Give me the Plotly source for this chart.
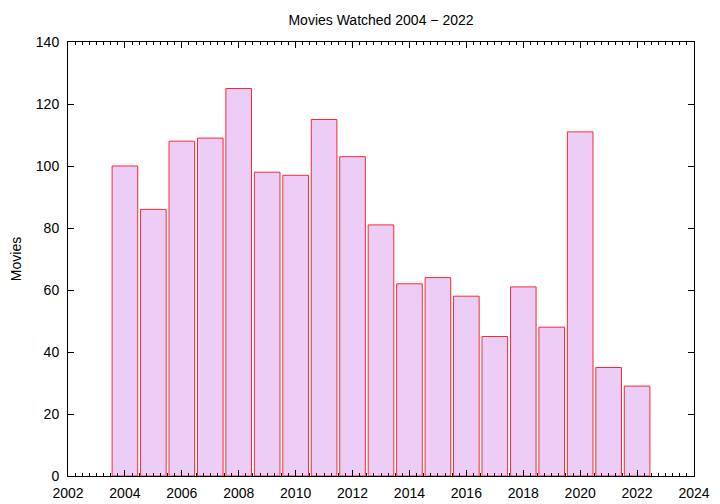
import plotly.graph_objects as go

years = [2004, 2005, 2006, 2007, 2008, 2009, 2010, 2011, 2012, 2013,
         2014, 2015, 2016, 2017, 2018, 2019, 2020, 2021, 2022]
movies = [100, 86, 108, 109, 125, 98, 97, 115, 103, 81,
          62, 64, 58, 45, 61, 48, 111, 35, 29]

fig = go.Figure()
fig.add_trace(go.Bar(
    x=years, y=movies, width=0.9,
    marker=dict(color="rgb(235,205,245)", line=dict(color="rgb(255,40,50)", width=1)),
))

# page body has an 8px offset; margins compensate so the plot box lands at 68..694 x 42..476
font = dict(family="Liberation Sans, Arial, sans-serif", size=14, color="black")
fig.update_layout(
    width=720, height=504,
    margin=dict(l=60, r=34, t=34, b=36),
    paper_bgcolor="white", plot_bgcolor="white",
    font=font, showlegend=False,
    title=dict(text="Movies Watched 2004 − 2022", x=373 / 720, xanchor="center",
               y=1 - 12 / 504, yanchor="middle", font=dict(size=14)),
)
fig.update_xaxes(
    range=[2002, 2024], tickmode="linear", tick0=2002, dtick=2,
    showgrid=False, zeroline=False, showline=True, linecolor="black", linewidth=1,
    mirror="ticks", ticks="inside", ticklen=6, tickcolor="black",
    minor=dict(ticks="inside", ticklen=3, dtick=0.25, tickcolor="black", showgrid=False),
    tickfont=dict(size=14), automargin=False, ticklabelstandoff=4,
)
fig.update_yaxes(
    range=[0, 140], tickmode="linear", tick0=0, dtick=20,
    showgrid=False, zeroline=False, showline=True, linecolor="black", linewidth=1,
    mirror="ticks", ticks="inside", ticklen=6, tickcolor="black",
    title=dict(text="Movies", font=dict(size=14), standoff=10),
    tickfont=dict(size=14), automargin=False, ticklabelstandoff=5,
)
fig.write_html("out.html")
